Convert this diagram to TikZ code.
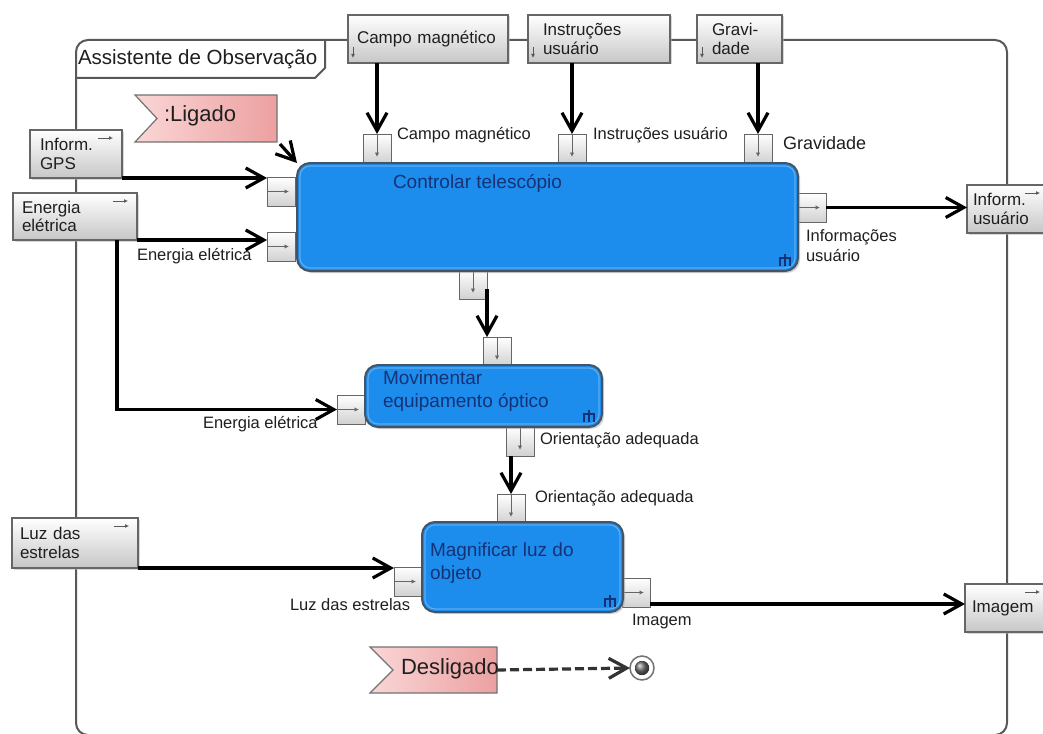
\documentclass[tikz,border=0pt]{standalone}
\usepackage{fontspec}
\setmainfont{Liberation Sans}
\usetikzlibrary{arrows.meta,shadows}

\definecolor{procblue}{RGB}{28,141,236}
\definecolor{procedge}{RGB}{66,84,104}
\definecolor{proctext}{RGB}{22,50,118}
\definecolor{flagpink}{RGB}{236,160,160}
\definecolor{flaglight}{RGB}{250,214,214}
\definecolor{framegray}{RGB}{88,88,88}

\newcommand\lblfont{\fontsize{16.5}{19.5}\selectfont}
\newcommand\extfont{\fontsize{17}{18.5}\selectfont}
\newcommand\procfont{\fontsize{19}{22.5}\selectfont}
\newcommand\flagfont{\fontsize{22}{24}\selectfont}
\newcommand\tabfont{\fontsize{20.5}{23}\selectfont}

\begin{document}
\begin{tikzpicture}[x=1pt,y=-1pt,
  every node/.style={inner sep=0pt,outer sep=0pt,text=black!88},
  frame/.style={draw=framegray,line width=2pt},
  extbox/.style={draw=black!60,line width=1.3pt,top color=white,bottom color=black!22,
     anchor=north west,align=left,minimum height=48pt,font=\extfont,
     drop shadow={shadow xshift=1.5pt,shadow yshift=-1.5pt,fill=black!30}},
  port/.style={draw=black!60,line width=1pt,top color=white,bottom color=black!18,
     anchor=north west,minimum width=28pt,minimum height=29pt},
  procbox/.style={draw=procedge,line width=2pt,fill=procblue,rounded corners=13pt,
     anchor=north west,drop shadow={shadow xshift=2pt,shadow yshift=-2pt,fill=black!35}},
  bevel/.style={draw=procblue!72!white,line width=1.2pt,rounded corners=10pt},
  proclabel/.style={anchor=north west,align=left,font=\procfont,text=proctext},
  lbl/.style={anchor=west,font=\lblfont},
  flow/.style={draw=black,line width=3.2pt,-{Straight Barb[length=18pt,width=20pt]}},
  portmark/.style={draw=black!60,line width=0.9pt,-{Latex[length=4.5pt,width=4.5pt]}},
  iconmark/.style={draw=black!65,line width=0.9pt,-{Latex[length=4pt,width=4pt]}},
  flag/.style={draw=black!55,line width=1.2pt,left color=flaglight,right color=flagpink},
  decomp/.pic={\draw[proctext,line width=1.4pt] (0pt,0pt) -- (0pt,8pt) -- (10pt,8pt) -- (10pt,0pt) (5pt,0pt) -- (5pt,12pt);}
]
\fill[white] (0,0) rectangle (1043,733);
\useasboundingbox (0,0) rectangle (1043,733);
\clip (0,0) rectangle (1043,733);

% system boundary with its title tab
\draw[frame,rounded corners=12pt] (76,40) rectangle (1007,735);
\draw[frame] (76,78) -- (315,78) -- (325,68) -- (325,40);
\node[anchor=west,font=\tabfont] (tab) at (78,59) {Assistente de Observação};

% boundary items
\node[extbox,text width=142pt,inner xsep=9pt] (campo) at (348,15) {Campo magnético};
\node[extbox,text width=112pt,inner xsep=15pt] (instr) at (528,15) {Instruções\\usuário};
\node[extbox,text width=55pt,inner xsep=15pt] (grav) at (697,15) {Gravi-\\dade};
\node[extbox,text width=72pt,inner xsep=10pt] (gps) at (30,130) {Inform.\\GPS};
\node[extbox,text width=106pt,inner xsep=9pt,minimum height=47pt] (ener) at (13,193) {Energia\\elétrica};
\node[extbox,text width=110pt,inner xsep=8pt,minimum height=50pt] (luz) at (12,518) {Luz das\\estrelas};
\node[extbox,text width=70pt,inner xsep=6pt] (infu) at (967,185) {Inform.\\usuário};
\node[extbox,text width=70pt,inner xsep=7pt] (img) at (965,584) {Imagem};

\foreach \b in {gps,ener,luz,infu,img}
  \draw[iconmark] ([xshift=-24pt,yshift=-8pt]\b.north east) -- ++(15pt,0pt);
\foreach \b in {campo,instr,grav}
  \draw[iconmark] ([xshift=5pt,yshift=16pt]\b.south west) -- ++(0pt,-11pt);

% ports
\node[port] (pcm) at (363,134) {};
\node[port] (pin) at (558,134) {};
\node[port] (pgr) at (744,134) {};
\node[port] (pgps) at (267,177) {};
\node[port] (pe1) at (267,232) {};
\node[port] (pr1) at (798,193) {};
\node[port] (pb1) at (459,270) {};
\node[port] (pm1) at (483,337) {};
\node[port] (pe2) at (337,395) {};
\node[port] (pm2) at (506,427) {};
\node[port] (pg1) at (497,494) {};
\node[port] (pl) at (394,567) {};
\node[port] (pr2) at (622,578) {};
\foreach \p in {pcm,pin,pgr,pm1,pg1,pb1,pm2}
  \draw[portmark] (\p.north) -- ([yshift=6pt]\p.south);
\foreach \p in {pgps,pe1,pe2,pl,pr1,pr2}
  \draw[portmark] (\p.west) -- ([xshift=-6pt]\p.east);

% activities
\node[procbox,minimum width=501pt,minimum height=108pt] (main) at (297,163) {};
\node[procbox,minimum width=237pt,minimum height=62pt] (mov) at (365,365) {};
\node[procbox,minimum width=201pt,minimum height=90pt] (mag) at (422,522) {};
\foreach \a in {main,mov,mag}
  \draw[bevel] ([shift={(3pt,-3pt)}]\a.north west) rectangle ([shift={(-3pt,3pt)}]\a.south east);
\node[proclabel,anchor=west] (maint) at (393,183) {Controlar telescópio};
\node[proclabel] (movt) at (383,371) {Movimentar\\equipamento óptico};
\node[proclabel] (magt) at (430,543) {Magnificar luz do\\objeto};
\pic at ([xshift=-18pt,yshift=5pt]main.south east) {decomp};
\pic at ([xshift=-18pt,yshift=5pt]mov.south east) {decomp};
\pic at ([xshift=-18pt,yshift=5pt]mag.south east) {decomp};

% port labels
\node[lbl] (lcm) at (397,135) {Campo magnético};
\node[lbl] (lin) at (593,135) {Instruções usuário};
\node[lbl,font=\fontsize{18}{20}\selectfont] (lgr) at (783,143) {Gravidade};
\node[lbl] (le1) at (137,256) {Energia elétrica};
\node[lbl,anchor=north west,align=left] (lr1) at (806,230) {Informações\\usuário};
\node[lbl] (le2) at (203,424) {Energia elétrica};
\node[lbl] (lm2) at (540,440) {Orientação adequada};
\node[lbl] (lg1) at (535,498) {Orientação adequada};
\node[lbl] (ll) at (290,605) {Luz das estrelas};
\node[lbl] (lr2) at (632,622) {Imagem};

% start and stop events
\coordinate (ligc) at (277,142);
\draw[flag] (135,95) -- (277,95) -- (ligc) -- (135,142) -- (157,118.5) -- cycle;
\node[anchor=west,font=\flagfont] (ligt) at (164,116) {:Ligado};
\coordinate (desc) at (497,670);
\draw[flag] (370,647) -- (497,647) -- (497,693) -- (370,693) -- (393,670) -- cycle;
\node[anchor=west,font=\flagfont] (dest) at (401,669) {Desligado};
\node[circle,draw=black!55,line width=1.5pt,fill=white,minimum size=24pt] (endst) at (642,668) {};
\fill[ball color=black!55] (endst.center) circle (7pt);

% flows
\draw[flow] (pcm.north |- campo.south) -- (pcm.north);
\draw[flow] (pin.north |- instr.south) -- (pin.north);
\draw[flow] (pgr.north |- grav.south) -- (pgr.north);
\draw[flow] (gps.south east) -- (gps.south east -| pgps.west);
\draw[flow] (ener.south east) -- (ener.south east -| pe1.west);
\coordinate (ebend) at (117,408);
\draw[flow] (ener.south -| ebend) |- (pe2.west);
\draw[flow] (luz.south east) -- (luz.south east -| pl.west);
\draw[flow] ([yshift=10pt]pb1.south east) -- (pb1.south east |- pm1.north);
\draw[flow] (pg1.north |- pm2.south) -- (pg1.north);
\draw[flow] (pr1.east) -- (pr1.east -| infu.west);
\draw[flow] ([yshift=3pt]pr2.south east) -- ([yshift=3pt]pr2.south east -| img.west);
\draw[flow] ([shift={(3pt,-2pt)}]ligc) -- (main.north west);
\draw[flow,draw=black!80,dash pattern=on 9pt off 4pt] (desc) -- (endst.west);
\end{tikzpicture}
\end{document}
